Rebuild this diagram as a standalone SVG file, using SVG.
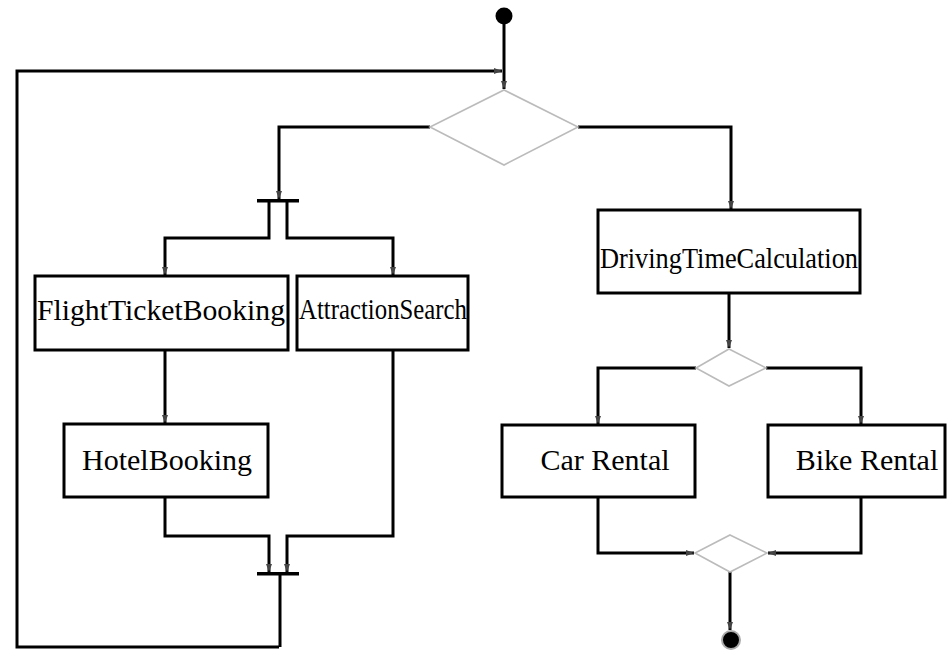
<svg xmlns="http://www.w3.org/2000/svg" width="951" height="654" viewBox="0 0 951 654">
<style>
.box{fill:#fff;stroke:#000;stroke-width:3}
.dia{fill:#fff;stroke:#bbb;stroke-width:1.6}
.ln{fill:none;stroke:#000;stroke-width:3;marker-end:url(#ah)}
.ln2{fill:none;stroke:#000;stroke-width:3}
.bar{fill:#000}
.lbl{font-family:"Liberation Serif","Times New Roman",serif;font-size:30px;fill:#000;text-anchor:middle}
</style>
<defs>
<marker id="ah" markerUnits="userSpaceOnUse" markerWidth="8" markerHeight="6" refX="8" refY="3" orient="auto">
<path d="M0,0 L8,3 L0,6 z" fill="#444"/>
</marker>
</defs>
<g id="connectors">
<path class="ln" d="M504,24 L504,89"/>
<path class="ln" d="M279,647 L17,647 L17,71 L502,71"/>
<path class="ln" d="M430,127 L279,127 L279,199"/>
<path class="ln" d="M269,202 L269,238 L165,238 L165,275"/>
<path class="ln" d="M287,202 L287,238 L393,238 L393,275"/>
<path class="ln" d="M165,350 L165,423"/>
<path class="ln" d="M165,497 L165,536 L269,536 L269,572"/>
<path class="ln" d="M393,350 L393,536 L287,536 L287,572"/>
<path class="ln2" d="M280,575 L280,647"/>
<path class="ln" d="M578,127 L731,127 L731,209"/>
<path class="ln" d="M729,293 L729,348"/>
<path class="ln" d="M696,368 L598,368 L598,424"/>
<path class="ln" d="M766,368 L861,368 L861,424"/>
<path class="ln" d="M598,497 L598,553 L694,553"/>
<path class="ln" d="M861,497 L861,553 L768,553"/>
<path class="ln" d="M730,572 L730,630"/>
</g>
<g id="start"><circle cx="504" cy="16" r="8.5" fill="#000"/></g>
<g id="decision1"><polygon class="dia" points="504,90 578,127 504,165 430,127"/></g>
<g id="fork"><rect class="bar" x="257" y="199" width="42" height="3.5"/></g>
<g id="flight"><rect class="box" x="35" y="276" width="253" height="74"/><text class="lbl" x="161" y="320" textLength="248" lengthAdjust="spacingAndGlyphs">FlightTicketBooking</text></g>
<g id="attraction"><rect class="box" x="297" y="276" width="171" height="74"/><text class="lbl" x="383" y="319" textLength="168" lengthAdjust="spacingAndGlyphs">AttractionSearch</text></g>
<g id="hotel"><rect class="box" x="64" y="424" width="204" height="73"/><text class="lbl" x="167" y="470">HotelBooking</text></g>
<g id="join"><rect class="bar" x="257" y="572" width="42" height="3.5"/></g>
<g id="driving"><rect class="box" x="598" y="210" width="262" height="83"/><text class="lbl" x="729" y="268" textLength="258" lengthAdjust="spacingAndGlyphs">DrivingTimeCalculation</text></g>
<g id="decision2"><polygon class="dia" points="729,349 766,368 729,386 696,368"/></g>
<g id="car"><rect class="box" x="502" y="425" width="193" height="72"/><text class="lbl" x="605" y="470">Car Rental</text></g>
<g id="bike"><rect class="box" x="768" y="425" width="177" height="72"/><text class="lbl" x="867" y="470">Bike Rental</text></g>
<g id="merge"><polygon class="dia" points="730,535 767,553 730,572 695,553"/></g>
<g id="end"><circle cx="731" cy="640" r="9" fill="#000" stroke="#aaa" stroke-width="2"/></g>
</svg>
